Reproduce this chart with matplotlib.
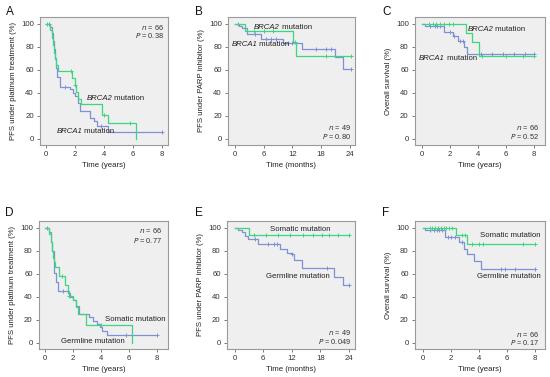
import numpy as np
import matplotlib.pyplot as plt

# Kaplan-Meier curves: event times, survival (%) after each step, censor times
# A: PFS under platinum, years
a_b1_t = [0, 0.3, 0.4, 0.5, 0.55, 0.6, 0.7, 0.8, 0.95, 1.65, 1.9, 2.0, 2.2, 2.35, 3.05, 3.3, 3.5, 4.3, 8.0]
a_b1_s = [100, 97, 92, 85, 78, 70, 62, 54, 45, 43, 40, 37, 31, 24, 18, 15, 11, 6, 6]
a_b1_c = [0.2, 1.3, 3.8, 8.0]
a_b2_t = [0, 0.3, 0.4, 0.5, 0.55, 0.6, 0.7, 0.85, 1.8, 2.0, 2.1, 2.2, 2.45, 3.85, 4.3, 6.2]
a_b2_s = [100, 95, 88, 82, 75, 69, 64, 59, 53, 47, 41, 35, 30, 21, 14, 0]
a_b2_c = [0.1, 1.7, 2.0, 4.0, 5.8]

# B: PFS under PARP inhibitor, months
b_b1_t = [0, 0.7, 1.5, 2.5, 5.4, 10.1, 14.0, 21.0, 22.6, 24.3]
b_b1_s = [100, 98, 96, 91, 87, 83, 78, 71, 61, 61]
b_b1_c = [0.5, 4.2, 6.5, 7.5, 8.5, 11.0, 12.0, 17.0, 19.0, 20.0, 24.3]
b_b2_t = [0, 2.1, 12.2, 12.8, 24.3]
b_b2_s = [100, 94, 84, 72, 72]
b_b2_c = [4.0, 6.0, 8.0, 12.5, 19.0, 24.3]

# C: overall survival, years
c_b1_t = [0, 0.2, 1.6, 2.2, 2.6, 3.0, 3.2, 8.0]
c_b1_s = [100, 98, 92.5, 89.5, 85, 80, 74, 74]
c_b1_c = [0.6, 0.9, 1.1, 1.3, 2.0, 2.3, 2.7, 2.9, 4.2, 5.0, 5.8, 6.6, 7.4, 8.0]
c_b2_t = [0, 3.15, 3.6, 4.1, 8.0]
c_b2_s = [100, 92, 84, 72, 72]
c_b2_c = [0.5, 0.8, 1.0, 1.3, 1.6, 1.9, 2.2, 4.3, 6.0, 7.2, 8.0]

# D: PFS under platinum, germline vs somatic
d_g_t = [0, 0.3, 0.4, 0.5, 0.6, 0.65, 0.75, 0.9, 1.65, 1.75, 2.0, 2.2, 2.4, 3.1, 3.4, 3.7, 3.9, 4.1, 4.4, 8.0]
d_g_s = [100, 96, 88, 80, 70, 61, 53, 45, 43, 40, 37, 32, 25, 22, 19, 16, 14, 10.5, 6.7, 6.7]
d_g_c = [0.15, 1.3, 5.8, 8.0]
d_s_t = [0, 0.3, 0.4, 0.5, 0.55, 0.6, 0.7, 1.0, 1.4, 1.6, 1.7, 2.0, 2.2, 2.35, 2.95, 6.2]
d_s_s = [100, 95, 88, 80, 74, 70, 66, 58, 50, 45, 41, 37, 31, 25, 15, 0]
d_s_c = [1.2, 1.7, 4.0]

# E: PFS under PARP inhibitor, germline vs somatic
e_g_t = [0, 0.8, 1.5, 2.2, 2.9, 5.0, 9.5, 11.0, 12.0, 12.4, 14.2, 20.8, 22.8, 24.0]
e_g_s = [100, 98, 96, 93, 90, 86, 82, 78, 77, 72, 65, 57, 50, 50]
e_g_c = [4.2, 7.0, 8.2, 9.0, 12.0, 19.5, 24.0]
e_s_t = [0, 3.0, 24.0]
e_s_s = [100, 94, 94]
e_s_c = [4.1, 6.6, 9.1, 11.7, 14.3, 16.4, 18.4, 19.9, 21.8, 24.0]

# F: overall survival, germline vs somatic
f_g_t = [0, 0.2, 1.6, 2.6, 2.95, 3.2, 3.65, 4.2, 8.0]
f_g_s = [100, 98, 92, 88, 82, 77, 71, 64, 64]
f_g_c = [0.5, 0.8, 1.0, 1.2, 1.4, 1.8, 2.0, 2.3, 2.8, 5.6, 5.9, 6.6, 8.0]
f_s_t = [0, 2.4, 3.2, 8.0]
f_s_s = [100, 94, 86, 86]
f_s_c = [0.5, 0.7, 0.9, 1.1, 1.3, 1.5, 1.7, 1.9, 2.1, 2.8, 3.0, 3.5, 4.0, 4.3, 7.2, 8.0]

BLUE = '#7f90d6'
GREEN = '#3dd680'
BG = '#efefef'
EDGE = '#9a9a9a'
FS = 5.6  # label / annotation font size

plt.rcParams['font.family'] = 'Liberation Sans'

fig = plt.figure(figsize=(5.5, 3.77), dpi=100)
W, H = 550, 377


def make_ax(left, top, right, bottom):
    return fig.add_axes([left / W, 1 - bottom / H, (right - left) / W, (bottom - top) / H])


def km(ax, t, s, c, color):
    ax.step(t, s, where='post', color=color, lw=0.9)
    # survival at each censor time = current step value
    cs = [s[max(i for i in range(len(t)) if t[i] <= ci)] for ci in c]
    ax.plot(c, cs, ls='none', marker='+', ms=2.5, mew=0.7, color=color)


def style(ax, xticks, xlim, xlabel, ylabel):
    ax.set_facecolor(BG)
    for sp in ax.spines.values():
        sp.set_color(EDGE)
        sp.set_linewidth(0.8)
    ax.set_xlim(*xlim)
    ax.set_ylim(-5.5, 106)
    ax.set_xticks(xticks)
    ax.set_yticks([0, 20, 40, 60, 80, 100])
    ax.tick_params(length=2.5, width=0.6, color='#666666', labelsize=5.6,
                   labelcolor='#333333', pad=2)
    ax.set_xlabel(xlabel, fontsize=FS, color='#222222', labelpad=3)
    ax.set_ylabel(ylabel, fontsize=FS, color='#222222', labelpad=3)


def stats(ax, x, y1, y2, n, p):
    ax.text(x, y1, '$n$ = ' + n, ha='right', va='center', fontsize=5.3, color='#333333')
    ax.text(x, y2, '$P$ = ' + p, ha='right', va='center', fontsize=5.3, color='#333333')


def label(ax, x, y, name, italic=True):
    if italic:
        t = ax.text(x, y, name, ha='left', va='center', fontsize=FS, style='italic', color='#222222')
        fig.canvas.draw()
        bb = t.get_window_extent()
        x2 = ax.transData.inverted().transform((bb.x1, 0))[0]
        ax.text(x2, y, ' mutation', ha='left', va='center', fontsize=FS, color='#222222')
    else:
        ax.text(x, y, name + ' mutation', ha='left', va='center', fontsize=FS, color='#222222')


yr = [0, 2, 4, 6, 8]
mo = [0, 6, 12, 18, 24]

# row 1
axA = make_ax(40, 17, 168, 145)
km(axA, a_b1_t, a_b1_s, a_b1_c, BLUE)
km(axA, a_b2_t, a_b2_s, a_b2_c, GREEN)
style(axA, yr, (-0.4, 8.4), 'Time (years)', 'PFS under platinum treatment (%)')
stats(axA, 8.1, 97, 89.5, '66', '0.38')
label(axA, 2.8, 35, 'BRCA2')
label(axA, 0.75, 6, 'BRCA1')

axB = make_ax(228, 17, 355, 145)
km(axB, b_b1_t, b_b1_s, b_b1_c, BLUE)
km(axB, b_b2_t, b_b2_s, b_b2_c, GREEN)
style(axB, mo, (-1.5, 25.1), 'Time (months)', 'PFS under PARP inhibitor (%)')
stats(axB, 24.3, 9.5, 1.5, '49', '0.80')
label(axB, 4.0, 97, 'BRCA2')
label(axB, -0.8, 82, 'BRCA1')

axC = make_ax(415, 17, 545, 145)
km(axC, c_b1_t, c_b1_s, c_b1_c, BLUE)
km(axC, c_b2_t, c_b2_s, c_b2_c, GREEN)
style(axC, yr, (-0.5, 8.8), 'Time (years)', 'Overall survival (%)')
stats(axC, 8.35, 9.5, 1.5, '66', '0.52')
label(axC, 3.25, 95.5, 'BRCA2')
label(axC, -0.2, 70, 'BRCA1')

# row 2
axD = make_ax(39, 221, 168, 349)
km(axD, d_g_t, d_g_s, d_g_c, BLUE)
km(axD, d_s_t, d_s_s, d_s_c, GREEN)
style(axD, yr, (-0.45, 8.8), 'Time (years)', 'PFS under platinum treatment (%)')
stats(axD, 8.35, 97.5, 89, '66', '0.77')
label(axD, 4.25, 20, 'Somatic', italic=False)
label(axD, 1.1, 1, 'Germline', italic=False)

axE = make_ax(227, 221, 355, 349)
km(axE, e_g_t, e_g_s, e_g_c, BLUE)
km(axE, e_s_t, e_s_s, e_s_c, GREEN)
style(axE, mo, (-1.6, 25.3), 'Time (months)', 'PFS under PARP inhibitor (%)')
stats(axE, 24.4, 9, 1, '49', '0.049')
label(axE, 7.5, 99, 'Somatic', italic=False)
label(axE, 6.6, 57.5, 'Germline', italic=False)

axF = make_ax(415, 221, 545, 349)
km(axF, f_g_t, f_g_s, f_g_c, BLUE)
km(axF, f_s_t, f_s_s, f_s_c, GREEN)
style(axF, yr, (-0.55, 8.75), 'Time (years)', 'Overall survival (%)')
stats(axF, 8.3, 7.5, 0, '66', '0.17')
label(axF, 4.1, 93.5, 'Somatic', italic=False)
label(axF, 3.9, 57.5, 'Germline', italic=False)

# panel letters
for ch, x, y in [('A', 6, 12), ('B', 195, 12), ('C', 382, 12),
                 ('D', 5, 213), ('E', 195, 213), ('F', 382, 213)]:
    fig.text(x / W, 1 - y / H, ch, fontsize=8.5, ha='left', va='center', color='#111111')

fig.savefig('out.png', dpi=100)
